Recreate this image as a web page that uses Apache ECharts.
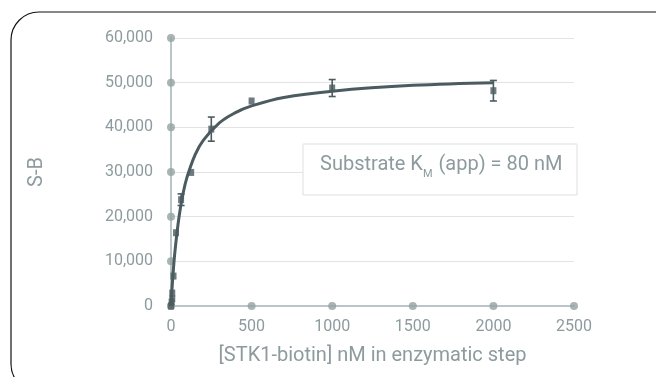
<!DOCTYPE html>
<html>
<head>
<meta charset="utf-8">
<script src="https://cdn.jsdelivr.net/npm/echarts@6/dist/echarts.min.js"></script>
<style>
  html, body { margin: 0; padding: 0; background: #fff; }
  #chart { width: 656px; height: 377px; }
</style>
</head>
<body>
<div id="chart"></div>
<script>
// measured points [nM, S-B]
const pointX = [0, 3.9, 7.8, 7.8, 15.6, 31.25, 62.5, 125, 250, 500, 1000, 2000]
const pointY = [0, 900, 1600, 2900, 6700, 16400, 23800, 29900, 39600, 45900, 48800, 48200]
// error bars [nM, mean, +/-]
const errX = [62.5, 250, 1000, 2000]
const errY = [23800, 39600, 48800, 48200]
const errD = [1300, 2700, 1900, 2300]
// fitted curve
const fitX = [0, 10, 25, 50, 75, 100, 150, 200, 300, 400, 500, 700, 1000, 1500, 2000]
const fitY = [0, 5800, 12400, 20000, 25200, 28900, 33900, 37100, 41000, 43300, 44800, 46700, 48100, 49400, 50000]
const xTicks = [0, 500, 1000, 1500, 2000, 2500]
const yTicks = [0, 10000, 20000, 30000, 40000, 50000, 60000]

const dark = '#4b5b5f'
const grey = '#8d9b9e'
const font = 'Roboto, sans-serif'

const chart = echarts.init(document.getElementById('chart'))
chart.setOption({
  animation: false,
  backgroundColor: '#fff',
  grid: { left: 171, right: 82, top: 38, bottom: 71 },
  xAxis: {
    type: 'value',
    min: 0,
    max: 2500,
    interval: 500,
    name: '[STK1-biotin] nM in enzymatic step',
    nameLocation: 'middle',
    nameGap: 40,
    nameTextStyle: { color: grey, fontSize: 20, fontFamily: font },
    axisLine: { lineStyle: { color: '#b9c5c7', width: 2 } },
    axisTick: { show: false },
    axisLabel: { color: grey, fontSize: 16, fontFamily: font, margin: 13, formatter: v => String(v) },
    splitLine: { show: false }
  },
  yAxis: {
    type: 'value',
    min: 0,
    max: 60000,
    interval: 10000,
    name: 'S-B',
    nameLocation: 'middle',
    nameGap: 124,
    nameTextStyle: { color: grey, fontSize: 20, fontFamily: font },
    axisLine: { show: true, lineStyle: { color: '#b9c5c7', width: 2 } },
    axisTick: { show: false },
    axisLabel: {
      color: grey,
      fontSize: 16,
      fontFamily: font,
      margin: 18,
      formatter: v => v.toLocaleString('en-US')
    },
    splitLine: { lineStyle: { color: '#e2e4e4', width: 1 } }
  },
  graphic: [
    {
      type: 'rect',
      shape: { x: 11, y: 12, width: 680, height: 380, r: 28 },
      style: { fill: 'none', stroke: '#111', lineWidth: 1.2 },
      z: 0
    },
    {
      type: 'rect',
      shape: { x: 303, y: 144, width: 274, height: 51 },
      style: { fill: '#fff', stroke: '#dde0e0', lineWidth: 1 },
      z: 50
    },
    {
      type: 'text',
      x: 320,
      y: 155,
      z: 51,
      style: {
        text: '{a|Substrate K}{s|M}{a| (app) = 80 nM}',
        rich: {
          a: { fontSize: 20, fontFamily: font, fill: grey, lineHeight: 24, verticalAlign: 'top' },
          s: { fontSize: 11, fontFamily: font, fill: grey, lineHeight: 24, padding: [14, 1, 0, 0], verticalAlign: 'top' }
        }
      }
    }
  ],
  series: [
    {
      name: 'axisDotsY',
      type: 'scatter',
      symbol: 'circle',
      symbolSize: 8,
      itemStyle: { color: '#93a1a3' },
      data: yTicks.map(v => [0, v]),
      z: 3,
      silent: true
    },
    {
      name: 'axisDotsX',
      type: 'scatter',
      symbol: 'circle',
      symbolSize: 8,
      itemStyle: { color: '#93a1a3' },
      data: xTicks.map(v => [v, 0]),
      z: 3,
      silent: true
    },
    {
      name: 'fit',
      type: 'line',
      smooth: 0.4,
      showSymbol: false,
      lineStyle: { color: dark, width: 3 },
      data: fitX.map((x, i) => [x, fitY[i]]),
      z: 4
    },
    {
      name: 'points',
      type: 'scatter',
      symbol: 'rect',
      symbolSize: [6, 7],
      itemStyle: { color: dark },
      data: pointX.map((x, i) => [x, pointY[i]]),
      z: 5
    },
    {
      name: 'errors',
      type: 'custom',
      z: 6,
      data: errX.map((x, i) => [x, errY[i] - errD[i], errY[i] + errD[i]]),
      renderItem: (params, api) => {
        const lo = api.coord([api.value(0), api.value(1)])
        const hi = api.coord([api.value(0), api.value(2)])
        const w = 3.5
        const style = { stroke: dark, lineWidth: 1.6 }
        return {
          type: 'group',
          children: [
            { type: 'line', shape: { x1: lo[0], y1: lo[1], x2: hi[0], y2: hi[1] }, style },
            { type: 'line', shape: { x1: lo[0] - w, y1: lo[1], x2: lo[0] + w, y2: lo[1] }, style },
            { type: 'line', shape: { x1: hi[0] - w, y1: hi[1], x2: hi[0] + w, y2: hi[1] }, style }
          ]
        }
      }
    }
  ]
})
</script>
</body>
</html>
